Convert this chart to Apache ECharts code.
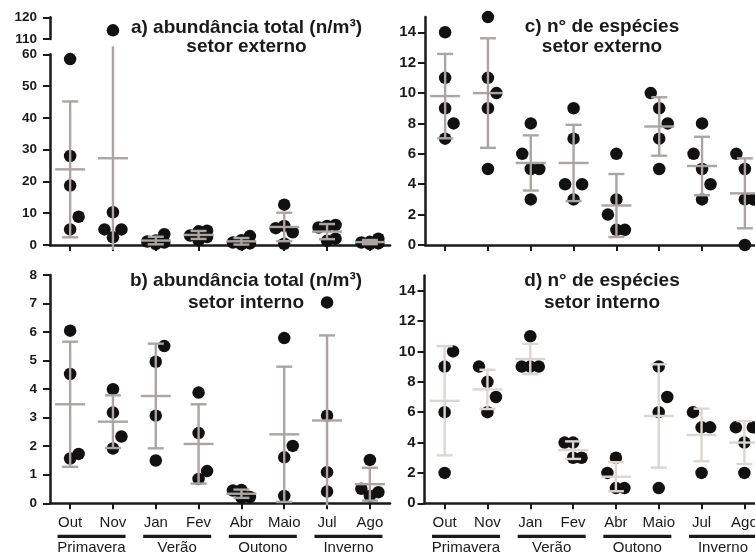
<!DOCTYPE html>
<html>
<head>
<meta charset="utf-8">
<script src="https://cdn.jsdelivr.net/npm/echarts@6/dist/echarts.min.js"></script>
<style>
html, body { margin: 0; padding: 0; background: #fff; }
#chart { width: 755px; height: 554px; }
</style>
</head>
<body>
<div id="chart"></div>
<script>
// meses e estações
var months = ['Out', 'Nov', 'Jan', 'Fev', 'Abr', 'Maio', 'Jul', 'Ago'];
var seasons = ['Primavera', 'Verão', 'Outono', 'Inverno'];

// a) abundância total (n/m³) - setor externo (uma lista por mês)
var abundExterno = [
  [58.5, 28, 18.7, 8.9, 4.9],
  [114, 10.3, 4.9, 4.9, 2.4],
  [3.4, 1.4, 1.1, 0.8, 0.3],
  [4.5, 4.3, 3.0, 2.5, 1.5],
  [2.8, 1.5, 0.8, 0.5, 0.2],
  [12.7, 6.0, 5.3, 4.0, 0.4],
  [6.3, 6.0, 5.5, 2.0, 1.3],
  [2.0, 1.0, 0.8, 0.5, 0.3]
];
// b) abundância total (n/m³) - setor interno
var abundInterno = [
  [6.05, 4.53, 1.57, 1.73],
  [4.0, 3.18, 2.34, 1.92],
  [5.51, 4.96, 3.07, 1.5],
  [3.88, 2.46, 1.13, 0.85],
  [0.47, 0.45, 0.22, 0.2],
  [5.79, 2.01, 1.61, 0.26],
  [7.04, 3.07, 1.09, 0.41],
  [1.52, 0.51, 0.39, 0.26]
];
// c) n° de espécies - setor externo
var especiesExterno = [
  [14, 11, 9, 8, 7],
  [15, 11, 10, 9, 5],
  [8, 6, 5, 5, 3],
  [9, 7, 4, 4, 3],
  [6, 3, 2, 1, 1],
  [10, 9, 8, 7, 5],
  [8, 6, 5, 4, 3],
  [6, 5, 3, 3, 0]
];
// d) n° de espécies - setor interno
var especiesInterno = [
  [10, 9, 6, 2],
  [9, 8, 7, 6],
  [11, 9, 9, 9],
  [4, 4, 3, 3],
  [3, 2, 1, 1],
  [9, 7, 6, 1],
  [6, 5, 5, 2],
  [5, 5, 4, 2]
];

// marcas dos eixos
var ticksA = [0, 10, 20, 30, 40, 50, 60];
var ticksAtopo = [110, 120];
var ticksB = [0, 1, 2, 3, 4, 5, 6, 7, 8];
var ticksEsp = [0, 2, 4, 6, 8, 10, 12, 14];

var titulos = [
  ['a) abundância total (n/m³)', 'setor externo'],
  ['b) abundância total (n/m³)', 'setor interno'],
  ['c) n° de espécies', 'setor externo'],
  ['d) n° de espécies', 'setor interno']
];

var FONT = 'Liberation Sans, Arial, sans-serif';
var INK = '#1a1a1a';
var STEP = 8.5; // deslocamento lateral dos pontos sobrepostos (px)

// painéis (segmento superior do a) é o eixo quebrado 110-120)
var paineis = [
  { data: abundExterno, left: 50, top: 54.3, height: 190.7, min: 0, max: 60, ticks: ticksA, labels: false, cor: '#aca4a2', fs: 13.5 },
  { data: abundExterno, left: 50, top: 17.3, height: 21.7, min: 110, max: 120, ticks: ticksAtopo, labels: false, cor: null, fs: 13.5, topo: true },
  { data: abundInterno, left: 50, top: 275, height: 228.3, min: 0, max: 8, ticks: ticksB, labels: true, cor: '#aca4a2', fs: 13.5 },
  { data: especiesExterno, left: 425, top: 17.1, height: 227.9, min: 0, max: 15, ticks: ticksEsp, labels: false, cor: '#aca4a2', fs: 15 },
  { data: especiesInterno, left: 424.5, top: 275.5, height: 227.8, min: 0, max: 15, ticks: ticksEsp, labels: true, cor: '#dcd6d3', fs: 15 }
];

function media(v) { return v.reduce(function (s, x) { return s + x; }, 0) / v.length; }
function dp(v) {
  var m = media(v);
  return Math.sqrt(v.reduce(function (s, x) { return s + (x - m) * (x - m); }, 0) / (v.length - 1));
}

// espalha pontos que se sobrepõem (estilo "dot plot")
function espalhar(vals, pxUnit) {
  var ordem = vals.map(function (v, i) { return i; }).sort(function (a, b) { return vals[a] - vals[b]; });
  var postos = [], lado = 1, off = [];
  ordem.forEach(function (i) {
    var y = vals[i] * pxUnit;
    var slots = [0, lado, -lado];
    var melhor = null, melhorDist = -1;
    for (var k = 0; k < slots.length; k++) {
      var s = slots[k];
      var d = Infinity;
      postos.forEach(function (p) { if (p.s === s) d = Math.min(d, Math.abs(p.y - y)); });
      if (d >= 16) { melhor = s; break; }
      if (d > melhorDist) { melhorDist = d; melhor = s; }
    }
    postos.push({ s: melhor, y: y });
    off[i] = melhor * STEP;
    if (melhor !== 0) lado = -melhor;
  });
  return off;
}

var grids = [], xAxes = [], yAxes = [], series = [];

paineis.forEach(function (p, g) {
  grids.push({ left: p.left, top: p.top, width: 340, height: p.height, outerBoundsMode: 'none' });
  xAxes.push({
    type: 'value', gridIndex: g, min: -0.47, max: 7.47, show: !p.topo,
    splitLine: { show: false },
    axisLine: { onZero: false, lineStyle: { color: INK, width: 2.5 } },
    axisTick: { customValues: [0, 1, 2, 3, 4, 5, 6, 7], length: 6, lineStyle: { color: INK, width: 2 } },
    axisLabel: {
      show: p.labels, customValues: [0, 1, 2, 3, 4, 5, 6, 7], margin: 12,
      formatter: function (v) { return months[v]; },
      fontFamily: FONT, fontSize: 15, color: INK
    }
  });
  yAxes.push({
    type: 'value', gridIndex: g, min: p.min, max: p.max,
    splitLine: { show: false },
    axisLine: { show: true, onZero: false, lineStyle: { color: INK, width: 2.5 } },
    axisTick: { customValues: p.ticks, length: 7, lineStyle: { color: INK, width: 2 } },
    axisLabel: {
      customValues: p.ticks, margin: p.fs > 14 ? 9 : 13,
      fontFamily: FONT, fontSize: p.fs, fontWeight: 'bold', color: INK
    }
  });

  var pxUnit = p.height / (p.max - p.min);
  var pontos = [];
  p.data.forEach(function (vals, i) {
    var dentro = vals.filter(function (v) { return v >= p.min && v <= p.max + 0.5; });
    var off = espalhar(dentro, pxUnit);
    dentro.forEach(function (v, k) {
      pontos.push({ value: [i, v], symbolOffset: [off[k], 0] });
    });
  });
  series.push({
    type: 'scatter', xAxisIndex: g, yAxisIndex: g, data: pontos,
    symbol: 'circle', symbolSize: 12.5, itemStyle: { color: '#111', opacity: 1 }, z: 2, silent: true
  });

  if (!p.cor) return;
  var barras = p.data.map(function (vals, i) { return [i, media(vals), dp(vals)]; });
  series.push({
    type: 'custom', xAxisIndex: g, yAxisIndex: g, data: barras, z: 3, silent: true,
    renderItem: (function (cor, pmin, pmax) {
      return function (params, api) {
        var x = api.value(0), m = api.value(1), s = api.value(2);
        var cs = params.coordSys;
        var c = api.coord([x, m]);
        var hi = api.coord([x, m + s]);
        var lo = api.coord([x, m - s]);
        var yTop = Math.max(hi[1], cs.y - 8);
        var yBot = Math.min(lo[1], cs.y + cs.height + 5);
        var st = { stroke: cor, lineWidth: 2.4 };
        var kids = [
          { type: 'line', shape: { x1: c[0], y1: yTop, x2: c[0], y2: yBot }, style: st },
          { type: 'line', shape: { x1: c[0] - 15, y1: c[1], x2: c[0] + 15, y2: c[1] }, style: st }
        ];
        if (m + s <= pmax) kids.push({ type: 'line', shape: { x1: c[0] - 8, y1: hi[1], x2: c[0] + 8, y2: hi[1] }, style: st });
        if (m - s >= pmin) kids.push({ type: 'line', shape: { x1: c[0] - 8, y1: lo[1], x2: c[0] + 8, y2: lo[1] }, style: st });
        return { type: 'group', children: kids };
      };
    })(p.cor, p.min, p.max)
  });
});

var chart = echarts.init(document.getElementById('chart'));
chart.setOption({
  backgroundColor: '#fff',
  animation: false,
  grid: grids,
  xAxis: xAxes,
  yAxis: yAxes,
  series: series
});

// títulos e estações (posições a partir dos eixos)
var graficos = [];
var posTitulos = [[246.5, 28, 47], [246, 281, 303], [602, 27, 47], [602, 281, 303]];
titulos.forEach(function (t, k) {
  var pt = posTitulos[k];
  [0, 1].forEach(function (j) {
    graficos.push({
      type: 'text', x: pt[0], y: pt[1 + j], silent: true,
      style: { text: t[j], align: 'center', verticalAlign: 'middle', fontFamily: FONT, fontSize: 19, fontWeight: 'bold', fill: INK }
    });
  });
});
[2, 4].forEach(function (g) {
  var base = paineis[g].top + paineis[g].height;
  seasons.forEach(function (nome, k) {
    var x1 = chart.convertToPixel({ xAxisIndex: g }, 2 * k);
    var x2 = chart.convertToPixel({ xAxisIndex: g }, 2 * k + 1);
    var mid = (x1 + x2) / 2;
    graficos.push({
      type: 'line', silent: true,
      shape: { x1: mid - 34, y1: base + 33, x2: mid + 34, y2: base + 33 },
      style: { stroke: INK, lineWidth: 3.2 }
    });
    graficos.push({
      type: 'text', x: mid, y: base + 45, silent: true,
      style: { text: nome, align: 'center', verticalAlign: 'middle', fontFamily: FONT, fontSize: 15, fill: INK }
    });
  });
});
chart.setOption({ graphic: graficos });
</script>
</body>
</html>
